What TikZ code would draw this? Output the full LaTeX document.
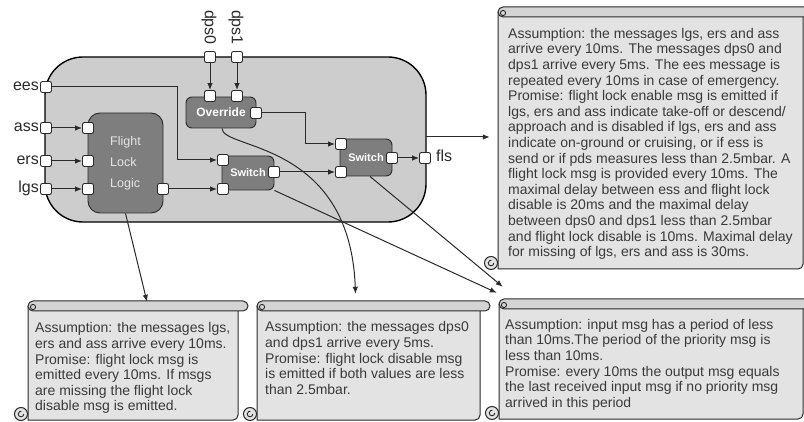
\documentclass[tikz,border=0pt]{standalone}
\usepackage{fontspec}
\setmainfont{Liberation Sans}
\usetikzlibrary{arrows.meta,fit,calc}

\definecolor{linecol}{HTML}{2A2A2A}
\definecolor{outerfill}{HTML}{CDCDCD}
\definecolor{blockfill}{HTML}{7E7E7E}
\definecolor{notefill}{HTML}{E3E3E3}
\definecolor{barfill}{HTML}{D4D4D4}
\definecolor{notetextcol}{HTML}{3A3A3A}

\tikzset{
  outerbox/.style={draw=black, line width=1.4pt, fill=outerfill, rounded corners=38pt,
    minimum width=381pt, minimum height=165pt, inner sep=0pt},
  port/.style={draw=linecol, line width=0.9pt, fill=white, minimum size=11pt,
    inner sep=0pt, rounded corners=2pt},
  block/.style={draw=linecol, line width=0.9pt, fill=blockfill, inner sep=0pt,
    text=white, font=\bfseries\fontsize{12}{14}\selectfont},
  wire/.style={draw=linecol, line width=1pt},
  conn/.style={wire, -{Latex[length=7pt,width=5.5pt]}},
  portlabel/.style={font=\fontsize{16}{18}\selectfont, inner sep=0pt, text=linecol},
  notebody/.style={draw=linecol, line width=1pt, fill=notefill},
  notebar/.style={draw=linecol, line width=1pt, fill=barfill},
  notecurl/.style={draw=linecol, line width=0.9pt},
  notetext/.style={anchor=north west, inner sep=0pt, align=left, text=notetextcol,
    font=\fontsize{14}{15.6}\selectfont},
}

% scroll-shaped note: name, left, top, right, bottom
\newcommand\scrollnote[5]{%
  \node[fit={(#2,#3) (#4,#5)}, inner sep=0pt] (#1) {};
  \path[notebody] (#2,#3+5) -- (#2,#5) -- (#4-5,#5)
     .. controls (#4-2,#5) and (#4,#5-2) .. (#4,#5-5) -- (#4,#3+5);
  \path[notebar, rounded corners=5pt] (#2,#3) rectangle (#4+10,#3+10);
  \draw[notecurl] (#2+5,#3+6) circle[radius=2.6];
  \path[notebody] (#2-7,#5-6) circle[radius=6.5];
  \draw[notecurl] (#2-4.2,#5-6) arc[start angle=0, end angle=280, radius=2.8];
}

\begin{document}
\begin{tikzpicture}[x=1pt,y=-1pt]
\useasboundingbox (0,0) rectangle (804,422);

% the flight lock component
\node[outerbox] (sys) at (235.5,139.5) {};

% internal blocks
\node[block, minimum width=75pt, minimum height=100pt, rounded corners=12pt,
      text=white!90!black, font=\fontsize{12.5}{21}\selectfont, align=left]
      (fll) at (125.5,163) {Flight\\Lock\\Logic};
\node[block, minimum width=70pt, minimum height=31pt, rounded corners=6pt]
      (ovr) at (221,112.5) {Override};
\node[block, minimum width=52pt, minimum height=34pt, rounded corners=6pt,
      font=\bfseries\fontsize{11}{13}\selectfont] (sw1) at (248,173) {Switch};
\node[block, minimum width=52pt, minimum height=37pt, rounded corners=6pt,
      font=\bfseries\fontsize{11}{13}\selectfont] (sw2) at (366,157.5) {Switch};

% external ports
\node[port] (pees) at (46,87) {};
\node[port] (pass) at (46,128) {};
\node[port] (pers) at (46,161) {};
\node[port] (plgs) at (46,189) {};
\node[port] (pdps0) at (210,57) {};
\node[port] (pdps1) at (237,57) {};
\node[port] (pfls) at (425,158) {};

% block ports
\node[port] (fin1) at (88,128) {};
\node[port] (fin2) at (88,161) {};
\node[port] (fin3) at (88,189) {};
\node[port] (fout) at (163,189) {};
\node[port] (ovin1) at (210,96) {};
\node[port] (ovin2) at (237,96) {};
\node[port] (ovout) at (256,113) {};
\node[port] (s1in1) at (223,160) {};
\node[port] (s1in2) at (223,189) {};
\node[port] (s1out) at (274,172) {};
\node[port] (s2in1) at (341,144) {};
\node[port] (s2in2) at (341,172) {};
\node[port] (s2out) at (392,158) {};

% port labels
\node[portlabel, anchor=base east] (lees) at (39,91) {ees};
\node[portlabel, anchor=base east] (lass) at (39,132) {ass};
\node[portlabel, anchor=base east] (lers) at (39,165) {ers};
\node[portlabel, anchor=base east] (llgs) at (39,193) {lgs};
\node[portlabel, anchor=base west] (lfls) at (436,162) {fls};
\node[portlabel, rotate=-90, anchor=east] (ldps0) at (209,45) {dps0};
\node[portlabel, rotate=-90, anchor=east] (ldps1) at (236,45) {dps1};

% internal wiring
\coordinate (eesbend) at (177,87);
\coordinate (ovbend) at (305,113);
\draw[conn] (pees) -- (eesbend) |- (s1in1);
\draw[conn] (pass) -- (fin1);
\draw[conn] (pers) -- (fin2);
\draw[conn] (plgs) -- (fin3);
\draw[conn] (pdps0) -- (ovin1);
\draw[conn] (pdps1) -- (ovin2);
\draw[conn] (fout) -- (s1in2);
\draw[conn] (ovout) -- (ovbend) |- (s2in1);
\draw[conn] (s1out) -- (s2in2);
\draw[conn] (s2out) -- (pfls);

% contract notes
\scrollnote{nTR}{498}{7}{803}{269}
\scrollnote{nBL}{28}{301}{238}{420}
\scrollnote{nBM}{257}{301}{480}{420}
\scrollnote{nBR}{499}{299}{803}{419}

\node[notetext] (tTR) at (508,28) {Assumption: the messages lgs, ers and ass\\
arrive every 10ms. The messages dps0 and\\
dps1 arrive every 5ms. The ees message is\\
repeated every 10ms in case of emergency.\\
Promise: flight lock enable msg is emitted if\\
lgs, ers and ass indicate take-off or descend/\\
approach and is disabled if lgs, ers and ass\\
indicate on-ground or cruising, or if ess is\\
send or if pds measures less than 2.5mbar. A\\
flight lock msg is provided every 10ms. The\\
maximal delay between ess and flight lock\\
disable is 20ms and the maximal delay\\
between dps0 and dps1 less than 2.5mbar\\
and flight lock disable is 10ms. Maximal delay\\
for missing of lgs, ers and ass is 30ms.};

\node[notetext] (tBL) at (35,322.5) {Assumption: the messages lgs,\\
ers and ass arrive every 10ms.\\
Promise: flight lock msg is\\
emitted every 10ms. If msgs\\
are missing the flight lock\\
disable msg is emitted.};

\node[notetext] (tBM) at (265,321.5) {Assumption: the messages dps0\\
and dps1 arrive every 5ms.\\
Promise: flight lock disable msg\\
is emitted if both values are less\\
than 2.5mbar.};

\node[notetext] (tBR) at (505,319) {Assumption: input msg has a period of less\\
than 10ms.The period of the priority msg is\\
less than 10ms.\\
Promise: every 10ms the output msg equals\\
the last received input msg if no priority msg\\
arrived in this period};

% links from components to their contracts
\coordinate (systap) at (426,137);
\draw[conn, shorten >=8pt] (systap) -- (systap -| nTR.west);
\draw[conn] (fll.south) -- ([xshift=14pt,yshift=-1pt]nBL.north);
\draw[conn] ([xshift=1pt]ovr.south) .. controls (222,150) and (350,140) .. ([xshift=-13pt,yshift=7pt]nBM.north);
\draw[conn] (sw1.south east) -- ([xshift=-2pt,yshift=6pt]nBR.north west);
\draw[conn] ([xshift=4pt]sw2.south) -- ([xshift=4pt,yshift=12pt]nBR.north west);
\end{tikzpicture}
\end{document}
